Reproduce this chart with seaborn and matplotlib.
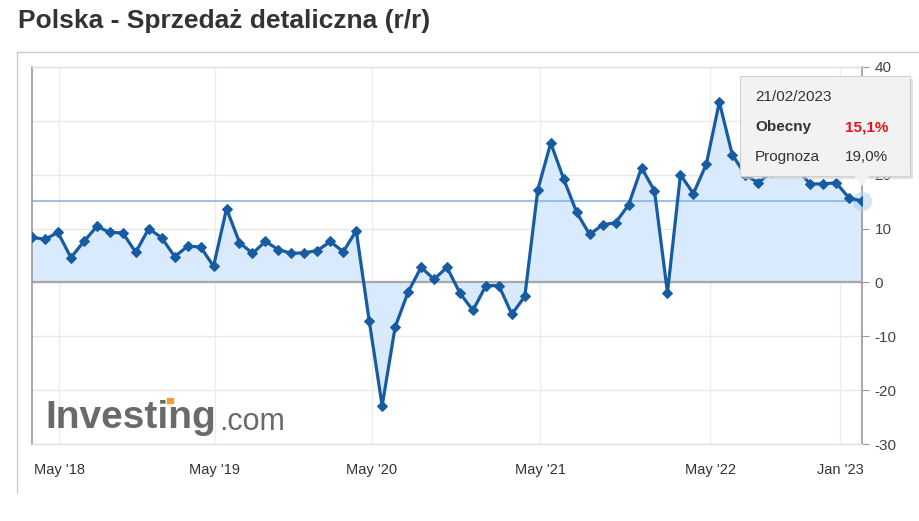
import numpy as np
import seaborn as sns
import matplotlib.pyplot as plt
from matplotlib.patches import FancyBboxPatch, Polygon, Rectangle

# Sprzedaz detaliczna r/r, kolejne odczyty (ostatni: 21/02/2023)
values = [8.4, 8.0, 9.3, 4.6, 7.6, 10.4, 9.3, 9.2, 5.6, 10.0,
          8.3, 4.8, 6.7, 6.6, 3.0, 13.7, 7.4, 5.4, 7.6, 6.1,
          5.4, 5.5, 5.9, 7.6, 5.7, 9.6, -7.1, -22.9, -8.3, -1.8,
          2.8, 0.6, 2.8, -2.0, -5.2, -0.6, -0.6, -5.9, -2.6, 17.2,
          25.9, 19.2, 13.0, 8.9, 10.7, 11.1, 14.4, 21.3, 17.0, -1.9,
          20.0, 16.5, 22.0, 33.5, 23.7, 20.0, 18.5, 20.5, 21.5, 21.0,
          18.3, 18.3, 18.5, 15.7, 15.1]
tick_pos = [2.1, 14.1, 26.2, 39.2, 52.3, 62.3]
tick_labels = ["May '18", "May '19", "May '20", "May '21", "May '22", "Jan '23"]
y_ticks = [-30, -20, -10, 0, 10, 20, 30, 40]

actual = 15.1
forecast = 19.0
release = '21/02/2023'

W, H = 920, 521
LINE = '#175ca3'
FILL = '#d8eafc'


def px(x, y):
    return x / W, 1 - y / H


sns.set_style('white')
plt.rcParams['font.family'] = ['Liberation Sans', 'DejaVu Sans']

fig = plt.figure(figsize=(W / 100, H / 100), dpi=100)
ax = fig.add_axes([32 / W, 1 - 444 / H, 830 / W, 377 / H])

x = np.arange(len(values))
y = np.array(values)

ax.fill_between(x, y, 0, color=FILL, zorder=1, linewidth=0)
for t in y_ticks:
    ax.axhline(t, color='#e8e8e8', lw=1, zorder=0)
for t in tick_pos:
    ax.axvline(t, color='#ececec', lw=1, zorder=0)
ax.axhline(0, color='#a8a8a8', lw=1.6, zorder=2)
ax.axhline(actual, color='#7ab2e8', lw=1.1, zorder=2)

sns.lineplot(x=x, y=y, ax=ax, color=LINE, linewidth=2.3, marker='D',
             markersize=5, markeredgecolor=LINE, zorder=4)
# podswietlenie ostatniego punktu
ax.plot(x[-1], y[-1], 'o', ms=14, color='#a8d0f2', alpha=0.5,
        mec='none', zorder=3, clip_on=False)

ax.set_xlim(0, len(values) - 1)
ax.set_ylim(-30, 40)
ax.set_xticks(tick_pos)
ax.set_xticklabels(tick_labels, fontsize=10.5, color='#333333')
ax.set_yticks(y_ticks)
ax.set_yticklabels([str(t) for t in y_ticks], fontsize=11, color='#444444')
ax.yaxis.tick_right()
ax.tick_params(axis='y', length=5, color='#999999', pad=4)
ax.tick_params(axis='x', length=0, pad=14)
ax.set_xlabel('')
ax.set_ylabel('')
for side in ['left', 'right']:
    ax.spines[side].set_color('#999999')
    ax.spines[side].set_linewidth(1.2)
ax.spines['top'].set_color('#dddddd')
ax.spines['bottom'].set_color('#dddddd')

# ramka wokol wykresu
fig.add_artist(plt.Line2D([17 / W, 17 / W], [1 - 52 / H, 1 - 493 / H],
                          color='#cccccc', lw=1))
fig.add_artist(plt.Line2D([17 / W, 1], [1 - 52 / H, 1 - 52 / H],
                          color='#cccccc', lw=1))

fig.text(*px(18, 21), 'Polska - Sprzedaż detaliczna (r/r)', fontsize=19,
         fontweight='bold', color='#333333', va='center', ha='left')

# logo
fig.text(*px(45, 418), 'Investing', fontsize=28, fontweight='bold',
         color='#6a6a6a', va='center', ha='left')
fig.text(*px(219, 422), '.com', fontsize=22, color='#6a6a6a',
         va='center', ha='left')
fig.add_artist(Rectangle(px(167, 403), 6 / W, 5 / H, color='#f0a030'))

# tooltip
fig.add_artist(FancyBboxPatch(px(743, 179), 170 / W, 100 / H,
                              boxstyle='square,pad=0', fc='#d0d0d0',
                              ec='none', alpha=0.6, zorder=5))
fig.add_artist(FancyBboxPatch(px(740, 176), 170 / W, 100 / H,
                              boxstyle='square,pad=0', fc='#f2f2f2',
                              ec='#cfcfcf', lw=0.8, zorder=5))
fig.add_artist(Polygon([px(854, 175.5), px(870, 175.5), px(862, 186)],
                       closed=True, fc='#f2f2f2', ec='none', zorder=5))
fig.text(*px(755, 97), release, fontsize=11, color='#333333', va='center',
         zorder=6)
fig.text(*px(755, 127), 'Obecny', fontsize=11, fontweight='bold',
         color='#333333', va='center', zorder=6)
fig.text(*px(888, 127), f'{actual:.1f}%'.replace('.', ','), fontsize=11,
         fontweight='bold', color='#e8141c', va='center', ha='right', zorder=6)
fig.text(*px(755, 157), 'Prognoza', fontsize=11, color='#333333',
         va='center', zorder=6)
fig.text(*px(888, 157), f'{forecast:.1f}%'.replace('.', ','), fontsize=11,
         color='#333333', va='center', ha='right', zorder=6)

fig.savefig('out.png', dpi=100)
